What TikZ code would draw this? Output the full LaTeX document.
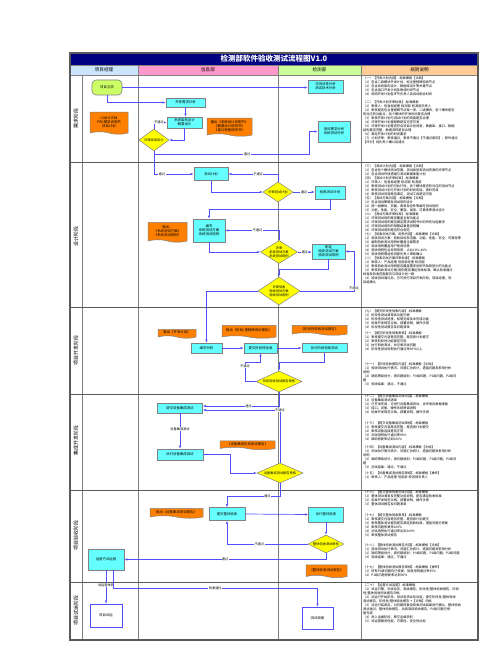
\documentclass[tikz,border=0pt]{standalone}
\usepackage{fontspec}
\setmainfont{Noto Sans CJK SC}
\usetikzlibrary{shapes.geometric,shapes.symbols,arrows.meta}
\XeTeXlinebreaklocale "zh"
\XeTeXlinebreakskip=0pt plus 1pt
\definecolor{navy}{RGB}{0,0,128}
\definecolor{hdblue}{RGB}{204,229,255}
\definecolor{hdpink}{RGB}{255,153,204}
\definecolor{hdgreen}{RGB}{204,255,153}
\definecolor{hdorange}{RGB}{255,204,153}
\definecolor{boxcyan}{RGB}{102,255,255}
\definecolor{dyellow}{RGB}{255,255,0}
\definecolor{docorange}{RGB}{255,128,0}
\definecolor{startgreen}{RGB}{204,255,102}
\definecolor{flow}{RGB}{80,80,255}
\definecolor{bordergray}{RGB}{128,128,128}
\definecolor{lanegray}{RGB}{90,90,90}
\begin{document}
\begin{tikzpicture}[x=1pt,y=-1pt,
 base/.style={font=\fontsize{3.4}{4.2}\selectfont, inner sep=0pt, align=center},
 proc/.style={base, draw=bordergray, fill=boxcyan, line width=0.6pt},
 dec/.style={base, shape=diamond, draw=bordergray, fill=dyellow, line width=0.5pt, font=\fontsize{3.2}{3.9}\selectfont},
 docu/.style={base, shape=tape, tape bend top=none, tape bend bottom=out and in, tape bend height=2.5pt, draw=bordergray, fill=docorange, line width=0.5pt},
 term/.style={base, draw=bordergray, fill=startgreen, rounded corners=4pt, line width=0.6pt},
 endbox/.style={base, draw=flow, fill=white, line width=0.7pt},
 flowline/.style={draw=flow, line width=0.7pt, -{Latex[length=3pt,width=2.4pt]}},
 lbl/.style={font=\fontsize{3.2}{3.8}\selectfont, fill=white, inner sep=0.4pt},
 lanelbl/.style={font=\fontsize{5}{6}\selectfont, rotate=90},
 hdr/.style={font=\fontsize{4.6}{5.5}\selectfont},
 rules/.style={font=\fontsize{3.2}{4}\selectfont, anchor=north west, inner sep=0pt, align=left, text width=112pt},
]
\useasboundingbox (0,0) rectangle (500,660);
\fill[white] (0,0) rectangle (500,660);

% title and header
\fill[navy] (70,53) rectangle (478,65);
\node[font=\fontsize{7.5}{9}\selectfont\bfseries, text=white] (title) at (274,59) {检测部软件验收测试流程图V1.0};
\fill[hdblue] (70,65) rectangle (138,75);
\fill[hdpink] (138,65) rectangle (278,75);
\fill[hdgreen] (278,65) rectangle (361,75);
\fill[hdorange] (361,65) rectangle (478,75);
\node[hdr] (h1) at (104,70) {项目经理};
\node[hdr] (h2) at (208,70) {信息部};
\node[hdr] (h3) at (319.5,70) {检测部};
\node[hdr] (h4) at (419.5,70) {规则说明};

% grid
\draw[bordergray, line width=0.8pt] (82,75) -- (82,640);
\foreach \xx in {138,278,361} \draw[bordergray, line width=0.8pt] (\xx,65) -- (\xx,640);
\foreach \yy in {65,75} \draw[bordergray, line width=0.6pt] (70,\yy) -- (478,\yy);
\foreach \yy in {163,307,394,490,582} \draw[lanegray, line width=1pt] (70,\yy) -- (478,\yy);
\draw[lanegray, line width=1.2pt] (70,53) rectangle (478,640);

% lane labels
\node[lanelbl] (l1) at (76,119) {需求阶段};
\node[lanelbl] (l2) at (76,236) {设计阶段};
\node[lanelbl] (l3) at (76,350) {项目开发阶段};
\node[lanelbl] (l4) at (76,440) {集成开发阶段};
\node[lanelbl] (l5) at (76,535) {项目验收阶段};
\node[lanelbl] (l6) at (76,610) {项目试运阶段};

% lane 1
\node[term, minimum width=30pt, minimum height=15pt] (start) at (107,87.5) {项目立项};
\node[proc, minimum width=35pt, minimum height=13pt] (kcs) at (325.5,86.5) {可测试性分析\\测试技术分析};
\node[proc, minimum width=39pt, minimum height=9pt] (kfxq) at (185.5,102.5) {开发需求分析};
\node[proc, minimum width=35pt, minimum height=11pt] (xtjg) at (184.5,122.5) {系统架构设计\\概要设计};
\node[dec, aspect=1.4, minimum width=30pt, minimum height=22pt] (ps1) at (154,140) {评审系统设计};
\node[docu, minimum width=38pt, minimum height=22pt] (doc1) at (109,122) {UI设计文档\\PRD需求说明书\\项目计划};
\node[docu, minimum width=45pt, minimum height=18pt] (doc2) at (229.5,126) {输出《系统设计说明书》\\《概要设计说明书》\\《接口规格说明书》};
\node[proc, minimum width=32pt, minimum height=21pt] (csxq) at (334,131.5) {测试需求分析\\系统测试分析};

% lane 2
\node[proc, minimum width=34pt, minimum height=13pt] (csjh) at (211,174) {测试计划};
\node[dec, aspect=1.5, minimum width=30pt, minimum height=20pt] (ps2) at (278,192) {评审测试计划};
\node[proc, minimum width=30pt, minimum height=13pt] (yscsjh) at (330,192.5) {验收测试计划};
\node[proc, minimum width=32pt, minimum height=23pt] (bx) at (209,230.5) {编写\\系统测试方案\\系统测试用例};
\node[docu, minimum width=39pt, minimum height=20pt] (doc3) at (167.5,231) {输出：\\《系统测试方案》\\《系统测试用例》};
\node[dec, aspect=1.6, minimum width=37pt, minimum height=23pt] (ps3) at (279,252) {评审\\系统测试方案\\系统测试用例};
\node[proc, minimum width=33pt, minimum height=15pt] (zd) at (328.5,251.5) {制定\\验收测试方案\\验收测试用例};
\node[dec, aspect=1.5, minimum width=42pt, minimum height=28pt] (ps4) at (279,291) {评审验收\\验收测试方案\\验收测试用例};

% lane 3
\node[docu, minimum width=38pt, minimum height=9pt] (doc4) at (177,332.5) {输出《开发计划》};
\node[docu, minimum width=54pt, minimum height=13pt] (doc5) at (249,330.5) {输出《阶段/里程碑测试报告》};
\node[docu, minimum width=55pt, minimum height=10pt] (doc6) at (319.5,329) {《阶段性验收测试报告》};
\node[proc, minimum width=31pt, minimum height=10pt] (bcode) at (206.5,348) {编写代码};
\node[proc, minimum width=33pt, minimum height=10pt] (tj) at (260.5,348) {提交阶段性验收};
\node[proc, minimum width=45pt, minimum height=9pt] (zx) at (324.5,348) {执行阶段验收测试};
\node[dec, aspect=2.2, minimum width=46pt, minimum height=21pt] (ps5) at (279,381.5) {阶段验收测试报告审核};

% lane 4
\node[proc, minimum width=45pt, minimum height=10pt] (tjsb) at (180,408) {提交设备集成测试};
\node[proc, minimum width=46pt, minimum height=11pt] (zxsb) at (180,454.5) {执行设备集成测试};
\node[docu, minimum width=55pt, minimum height=9pt] (doc7) at (247.5,444) {《设备集成阶段测试报告》};
\node[dec, aspect=2.2, minimum width=46pt, minimum height=20pt] (ps6) at (280,473) {设备集成测试报告审核};

% lane 5
\node[docu, minimum width=53pt, minimum height=10pt] (doc8) at (176.5,512) {输出《设备集成测试报告》};
\node[proc, minimum width=36pt, minimum height=13pt] (tjzt) at (227,514) {提交整体验收};
\node[proc, minimum width=35pt, minimum height=15pt] (zxzt) at (326,514.5) {执行整体验收};
\node[dec, aspect=2, minimum width=36pt, minimum height=18pt] (ps7) at (326,544) {整体验收测试审核};
\node[docu, minimum width=41pt, minimum height=13pt] (doc9) at (326.5,570) {《整体验收测试报告》};
\node[proc, minimum width=36pt, minimum height=21pt] (yyf) at (106,559.5) {运营方试运营};

% lane 6
\node[endbox, minimum width=32pt, minimum height=23pt] (xmsy) at (106,615.5) {项目试运};
\node[endbox, minimum width=31pt, minimum height=22pt] (cssw) at (317.5,618) {测试收尾};

% connectors lane 1
\draw[flowline] (start.east) -- (start.east -| kcs.west);
\draw[flowline] (start.south) |- (kfxq.west);
\draw[flowline] (kfxq.south) -- (kfxq.south |- xtjg.north);
\draw[flowline] (xtjg.south) |- (ps1.east);
\draw[flowline] (ps1.north) |- node[lbl,pos=0.7]{不通过} (xtjg.west);
\coordinate (c1) at (309,154);
\draw[flowline] (ps1.south) -- (154,154) -- node[lbl,pos=0.6]{通过} (c1) |- (csxq.west);
\draw[flowline] (ps1.south) |- node[lbl,pos=0.6]{通过} (csjh.west);

% lane 2
\draw[flowline] (csjh.south) |- (ps2.west);
\draw[flowline] (ps2.east) -- node[lbl]{通过} (ps2.east -| yscsjh.west);
\draw[flowline] (ps2.north) |- node[lbl,pos=0.7]{不通过} (csjh.east);
\draw[flowline] (yscsjh.south) |- (209,209) -- (bx.north);
\draw[flowline] (ps3.north) |- node[lbl,pos=0.7]{不通过} (bx.east);
\draw[flowline] (bx.south) |- (ps3.west);
\draw[flowline] (ps3.east) -- node[lbl]{通过} (ps3.east -| zd.west);
\draw[flowline] (zd.south) |- (279,269) -- (ps4.north);
\draw[flowline] (ps4.east) -- (354,291) -- node[lbl,pos=0.08]{不通过} (354,251.5) -- (zd.east);
\draw[flowline] (ps4.west) -| (bcode.north);

% lane 3
\draw[flowline] (bcode.east) -- (tj.west);
\draw[flowline] (tj.east) -- (zx.west);
\draw[flowline] (zx.south) |- (279,362) -- (ps5.north);
\draw[flowline] (ps5.west) -| node[lbl,pos=0.9]{不通过} (245,362) -| (tj.south);
\draw[flowline] (ps5.south) |- node[lbl,pos=0.7]{通过} ([yshift=2pt]tjsb.east);

% lane 4
\draw[flowline] (ps6.north) |- node[lbl,pos=0.5]{不通过} ([yshift=-2pt]tjsb.east);
\draw[flowline] (tjsb.south) -- node[lbl,pos=0.45]{设备集成测试} (zxsb.north);
\draw[flowline] (zxsb.east) -| (230,473) -- (ps6.west);
\draw[flowline] (ps6.south) -- (280,496) -| node[lbl,pos=0.12]{通过} (tjzt.north);

% lane 5
\draw[flowline] (tjzt.east) -- (zxzt.west);
\draw[flowline] (zxzt.south) -- (ps7.north);
\draw[flowline] (ps7.west) -| node[lbl,pos=0.3]{不通过} (tjzt.south);
\draw[flowline] (ps7.south) |- node[lbl,pos=0.75]{通过} (yyf.east);

% lane 6
\draw[flowline] (yyf.south) -- node[lbl,pos=0.45]{试运营体验} (xmsy.north);
\draw[flowline] ([xshift=7pt]yyf.south) |- node[lbl,pos=0.75]{验收通过} (317.5,588) -- (cssw.north);

% rules
\node[rules] (r1) at (363,77) {（一）【开发计划内容】-标准模板【文档】\\
（1）包含二级模块开发计划，标注里程碑验收节点\\
（2）包含系统架构设计、数据库设计等关键节点\\
（3）包含接口开发计划及联调时间节点\\
（4）标明开发计划各环节负责人及测试配合时间};
\node[rules] (r2) at (363,101) {（二）【开发计划评审标准】-标准模板\\
（1）审核人：信息部经理 检测部 检测部负责人\\
（2）审核是否包含里程碑节点每一项，二级模块，各个模块是否\\
有对应的功能点，各个模块的开发时间是否合理\\
（3）审核开发计划与测试计划的衔接是否合理\\
（4）评审开发计划里程碑是否可控可测\\
（5）评审开发计划是否符合项目计划进度，数据库、接口、数据\\
结构是否完整，数据流转是否合理\\
（6）满足开发计划的时间要求\\
（7）计划评审：审核通过，审核不通过【不通过原因】，原件通过\\
【评分】经负责人确认后通过};
\node[rules] (r3) at (363,165) {（三）【测试计划内容】-标准模板【文档】\\
（1）包含各个模块测试范围、测试类型和测试资源的评审节点\\
（2）包含测试环境搭建与测试数据准备计划\\
（四）【测试计划评审标准】-标准模板\\
（1）评审人：信息部经理 检测部 检测部\\
（2）审核测试计划的可执行性，各个模块是否有对应的测试节点\\
（3）审核测试计划与开发计划的时间衔接，按时完成\\
（4）审核测试资源是否满足，测试工具是否可用\\
（五）【测试方案内容】-标准模板【文档】\\
（1）包含测试策略及测试用例设计\\
（2）按一级模块、页面、表单及控件等编写测试用例\\
（3）功能、性能、安全、兼容、易用、可靠性等测试设计\\
（六）【测试方案评审标准】-标准模板\\
（1）评审测试用例是否覆盖全部功能点\\
（2）评审测试用例是否满足需求说明书中的所有功能要求\\
（3）评审测试用例的预期结果是否明确\\
（4）评审测试用例是否符合规范\\
（七）【验收测试方案、用例内容】-标准模板【文档】\\
（1）验收测试方案：验收目标及范围、功能、性能、安全、可靠性等\\
（2）编制验收测试用例并覆盖全部需求\\
（3）验收用例覆盖用户使用场景\\
（4）验收用例包含异常场景，占比20\%-40\%\\
（5）验收用例需经检测部负责人审核确认\\
（八）【验收测试方案评审标准】-标准模板\\
（1）审核人：产品经理 信息部经理 检测部\\
（2）审核验收测试用例是否覆盖需求说明书及原型中的功能点\\
（3）审核验收测试方案/用例是否满足验收标准，确认验收通过\\
标准及验收范围是否与项目计划一致\\
（4）验收测试通过后，方可进行项目开发阶段，项目经理，项\\
目组确认};
\node[rules] (r9) at (363,310) {（九）【提交阶段性验收内容】-标准模板\\
（1）阶段性测试清单及功能列表\\
（2）阶段性测试进度，标明完成及未完成功能\\
（3）标准开发规范文档，部署说明，操作手册\\
（4）阶段性测试报告及问题清单};
\node[rules] (r10) at (363,332) {（十）【提交阶段性验收审核】-标准模板\\
（1）审核提交内容是否完整，是否按计划提交\\
（2）审核阶段性功能是否可用\\
（3）执行验收测试，并记录测试问题\\
（4）阶段性测试用例执行通过率90\%以上};
\node[rules] (r11) at (363,363) {（十一）【阶段验收报告内容】-标准模板【文档】\\
（1）验收测试执行情况，问题汇总统计，遗留问题及影响分析\\
说明\\
（2）缺陷等级划分，按问题级别：P0级问题，P1级问题，P2级问\\
题\\
（3）验收结果：通过，不通过};
\node[rules] (r12) at (363,395) {（十二）【提交设备集成测试内容】-标准模板\\
（1）设备集成测试清单\\
（2）已开发完成，可进行设备集成测试，含环境及数据准备\\
（3）接口、设备、硬件系统联调说明\\
（4）标准开发规范文档，部署说明，操作手册};
\node[rules] (r13) at (363,422) {（十三）【提交设备集成测试审核】-标准模板\\
（1）审核提交内容是否完整，是否按计划提交\\
（2）审核设备连接是否正常\\
（3）测试用例执行通过率95\%\\
（4）缺陷修复率达到100\%};
\node[rules] (r14) at (363,446) {（十四）【设备集成测试内容】-标准模板【文档】\\
（1）测试执行情况统计，问题汇总统计，遗留问题及影响分析\\
说明\\
（2）缺陷等级划分，按问题级别：P0级问题，P1级问题，P2级问\\
题\\
（3）测试结果：通过，不通过};
\node[rules] (r15) at (363,472) {（十五）【设备集成测试报告审核】-标准模板【操作】\\
（1）审核人：产品经理 信息部 检测部负责人};
\node[rules] (r16) at (363,491) {（十六）【提交整体验收测试内容】-标准模板\\
（1）整体测试清单及完整功能说明，是否满足验收标准\\
（2）标准开发规范文档，部署说明，操作手册\\
（3）整体测试报告及问题清单};
\node[rules] (r17) at (363,514) {（十七）【提交整体验收审核】-标准模板\\
（1）审核提交内容是否完整，是否按计划提交\\
（2）审核整体测试报告是否满足验收标准，遗留问题已修复\\
（3）审核问题修复率100\%\\
（4）测试用例执行通过率达到100\%\\
（5）审核整体测试报告};
\node[rules] (r18) at (363,544) {（十八）【整体验收测试报告内容】-标准模板【文档】\\
（1）验收测试执行情况，问题汇总统计，遗留问题及影响分析\\
（2）缺陷等级划分，按问题级别：P0级问题，P1级问题，P2级问题\\
（3）验收结果：通过，不通过};
\node[rules] (r19) at (363,566) {（十九）【整体验收测试报告审核】-标准模板【操作】\\
（1）所有P0级问题均已修复，验收用例通过率95\%\\
（2）P1级问题修复率达到90\%};
\node[rules] (r20) at (363,584) {（二十）【运营方试运营】-标准模板\\
（1）试运行期，测试业务，验收报告，阶段性/整体验收报告，阶段\\
性/整体验收测试报告归档\\
（2）试运行开始阶段，测试各项业务功能，提交阶段性/整体验收\\
测试报告，阶段性/整体验收报告→【文档】归档\\
（3）试运行结束后，对问题修复及验收测试结果进行确认，整体验收\\
测试通过，整体验收报告，出具项目验收报告，P0级问题已修\\
复完成\\
（4）进入运维阶段，移交运维资料\\
（5）试运营期间性能、可靠性、安全性达标};
\end{tikzpicture}
\end{document}
